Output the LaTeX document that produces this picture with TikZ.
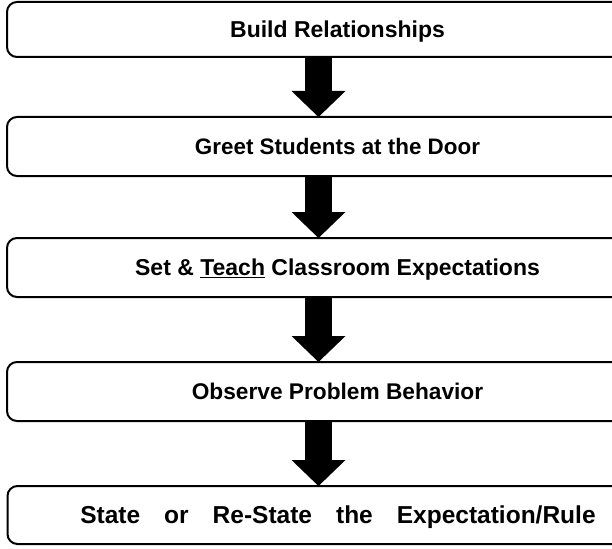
\documentclass[tikz,border=0pt]{standalone}
\usepackage{fontspec}
\setmainfont{Liberation Sans}
\usetikzlibrary{arrows.meta}
\tikzset{
  stagebox/.style={draw=black, line width=2pt, rounded corners=10pt, fill=white,
    minimum width=661pt, inner sep=0pt, text height=16.5pt, text depth=0pt,
    font=\fontsize{23pt}{25pt}\selectfont\bfseries},
  flowarrow/.style={line width=27pt, draw=black,
    -{Triangle[width=54pt,length=26pt,line width=0pt]}}
}
\begin{document}
\begin{tikzpicture}[x=1pt,y=-1pt]
\useasboundingbox (0,0) rectangle (612,548);
\clip (0,0) rectangle (612,548);
\node[stagebox, minimum height=55pt] (b1) at (337.5,29.5) {Build Relationships};
\node[stagebox, minimum height=59pt, font=\fontsize{22.4pt}{25pt}\selectfont\bfseries] (b2) at (337.5,146.5) {Greet Students at the Door};
\node[stagebox, minimum height=59pt] (b3) at (337.5,267.5) {Set \& \underline{Teach} Classroom Expectations};
\node[stagebox, minimum height=59pt, font=\fontsize{22.7pt}{25pt}\selectfont\bfseries] (b4) at (337.5,391.5) {Observe Problem Behavior};
\node[stagebox, minimum height=58pt, text height=17.5pt, font=\fontsize{24.5pt}{27pt}\selectfont\bfseries] (b5) at (338,515) {\spaceskip=24pt State or Re-State the Expectation/Rule};
\coordinate (ax) at (318.5,0);
\draw[flowarrow] (b1.south -| ax) -- ([yshift=-1pt]b2.north -| ax);
\draw[flowarrow] (b2.south -| ax) -- ([yshift=-1pt]b3.north -| ax);
\draw[flowarrow] (b3.south -| ax) -- ([yshift=-1pt]b4.north -| ax);
\draw[flowarrow] (b4.south -| ax) -- ([yshift=-1pt]b5.north -| ax);
\end{tikzpicture}
\end{document}
